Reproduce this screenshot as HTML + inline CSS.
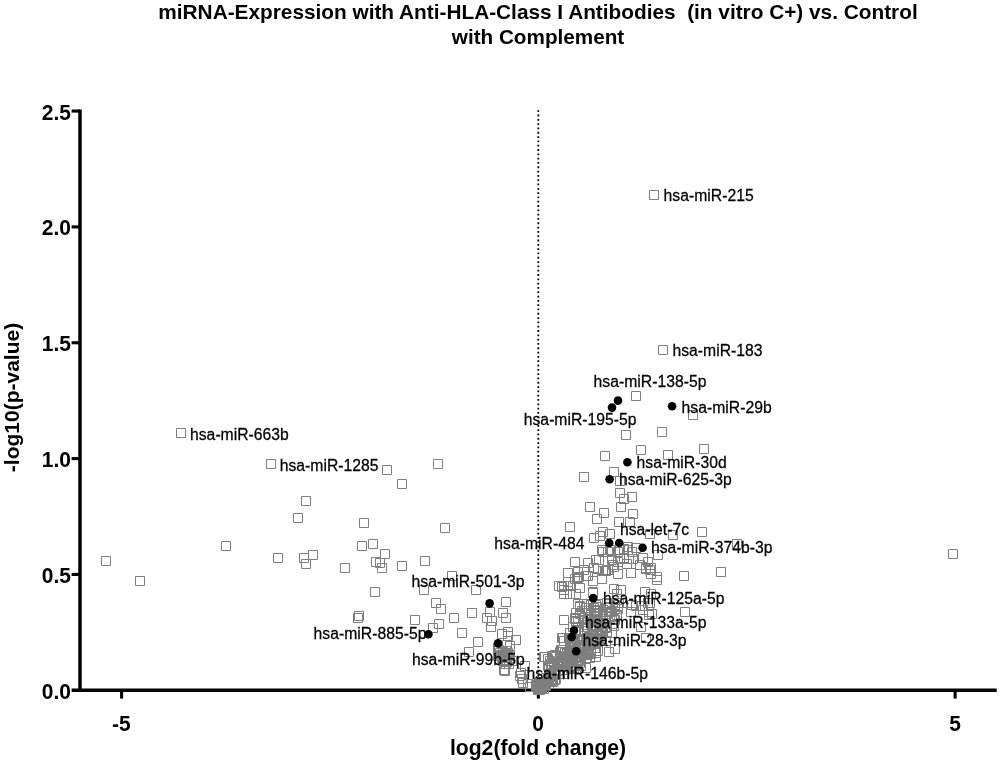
<!DOCTYPE html>
<html><head><meta charset="utf-8"><title>Volcano plot</title>
<style>html,body{margin:0;padding:0;background:#fff;}svg{display:block;will-change:transform;}text{font-family:"Liberation Sans", sans-serif;fill:#000;}.t{font-weight:bold;}.s{fill:none;stroke:#7f7f7f;stroke-width:1.0;}</style></head><body>
<svg width="1000" height="763" viewBox="0 0 1000 763">
<rect width="1000" height="763" fill="#fff"/>
<text class="t" transform="translate(538 18.6) scale(1 1)" font-size="20.8" text-anchor="middle" xml:space="preserve" style="white-space:pre">miRNA-Expression with Anti-HLA-Class I Antibodies  (in vitro C+) vs. Control</text>
<text class="t" transform="translate(538 43.7) scale(1 1)" font-size="20.7" text-anchor="middle">with Complement</text>
<g stroke="#000" stroke-width="3.5" fill="none" stroke-linecap="butt">
<path d="M80 109.5V692"/>
<path d="M71.6 690.25H996.7"/>
</g>
<g stroke="#000" stroke-width="3.1" fill="none">
<path d="M71.6 111.05H80"/>
<path d="M71.6 226.9H80"/>
<path d="M71.6 342.75H80"/>
<path d="M71.6 458.6H80"/>
<path d="M71.6 574.45H80"/>
<path d="M121.6 690V698.6"/>
<path d="M538.35 690V698.6"/>
<path d="M955.1 690V698.6"/>
</g>
<path d="M538.3 110.3V688" stroke="#000" stroke-width="1.8" stroke-dasharray="1.8 2.51" fill="none"/>
<text class="t" transform="translate(70.9 119.5) scale(1 1.045)" font-size="21" text-anchor="end">2.5</text>
<text class="t" transform="translate(70.9 235.3) scale(1 1.045)" font-size="21" text-anchor="end">2.0</text>
<text class="t" transform="translate(70.9 351.1) scale(1 1.045)" font-size="21" text-anchor="end">1.5</text>
<text class="t" transform="translate(70.9 467.0) scale(1 1.045)" font-size="21" text-anchor="end">1.0</text>
<text class="t" transform="translate(70.9 582.9) scale(1 1.045)" font-size="21" text-anchor="end">0.5</text>
<text class="t" transform="translate(70.9 698.7) scale(1 1.045)" font-size="21" text-anchor="end">0.0</text>
<text class="t" transform="translate(121.3 730.6) scale(1 1.045)" font-size="21" text-anchor="middle">-5</text>
<text class="t" transform="translate(538 730.6) scale(1 1.045)" font-size="21" text-anchor="middle">0</text>
<text class="t" transform="translate(955.0 730.6) scale(1 1.045)" font-size="21" text-anchor="middle">5</text>
<text class="t" transform="translate(538 755) scale(1 1)" font-size="21.15" text-anchor="middle">log2(fold change)</text>
<text class="t" transform="translate(19.3 397.5) rotate(-90) scale(1 1)" font-size="21" text-anchor="middle">-log10(p-value)</text>
<path class="s" d="M573.5 643.5h9v9h-9zM561.5 653.5h9v9h-9zM567.5 661.5h9v9h-9zM580.5 640.5h9v9h-9zM543.5 677.5h9v9h-9zM537.5 683.5h9v9h-9zM566.5 655.5h9v9h-9zM591.5 609.5h9v9h-9zM570.5 641.5h9v9h-9zM567.5 664.5h9v9h-9zM561.5 654.5h9v9h-9zM571.5 645.5h9v9h-9zM585.5 614.5h9v9h-9zM580.5 650.5h9v9h-9zM589.5 624.5h9v9h-9zM544.5 679.5h9v9h-9zM598.5 609.5h9v9h-9zM544.5 673.5h9v9h-9zM571.5 660.5h9v9h-9zM594.5 619.5h9v9h-9zM586.5 610.5h9v9h-9zM549.5 658.5h9v9h-9zM564.5 633.5h9v9h-9zM549.5 670.5h9v9h-9zM586.5 635.5h9v9h-9zM545.5 669.5h9v9h-9zM563.5 658.5h9v9h-9zM546.5 674.5h9v9h-9zM555.5 647.5h9v9h-9zM573.5 658.5h9v9h-9zM541.5 680.5h9v9h-9zM545.5 656.5h9v9h-9zM540.5 680.5h9v9h-9zM570.5 647.5h9v9h-9zM554.5 659.5h9v9h-9zM558.5 656.5h9v9h-9zM566.5 664.5h9v9h-9zM549.5 666.5h9v9h-9zM610.5 600.5h9v9h-9zM573.5 627.5h9v9h-9zM574.5 655.5h9v9h-9zM587.5 638.5h9v9h-9zM573.5 643.5h9v9h-9zM578.5 643.5h9v9h-9zM585.5 653.5h9v9h-9zM578.5 643.5h9v9h-9zM562.5 653.5h9v9h-9zM586.5 635.5h9v9h-9zM563.5 659.5h9v9h-9zM572.5 648.5h9v9h-9zM613.5 604.5h9v9h-9zM579.5 642.5h9v9h-9zM559.5 636.5h9v9h-9zM582.5 624.5h9v9h-9zM573.5 653.5h9v9h-9zM551.5 674.5h9v9h-9zM583.5 646.5h9v9h-9zM565.5 628.5h9v9h-9zM589.5 625.5h9v9h-9zM592.5 637.5h9v9h-9zM568.5 649.5h9v9h-9zM610.5 615.5h9v9h-9zM593.5 635.5h9v9h-9zM569.5 647.5h9v9h-9zM558.5 645.5h9v9h-9zM571.5 616.5h9v9h-9zM602.5 628.5h9v9h-9zM596.5 627.5h9v9h-9zM600.5 616.5h9v9h-9zM550.5 675.5h9v9h-9zM570.5 613.5h9v9h-9zM610.5 604.5h9v9h-9zM590.5 643.5h9v9h-9zM537.5 677.5h9v9h-9zM579.5 622.5h9v9h-9zM591.5 636.5h9v9h-9zM568.5 622.5h9v9h-9zM537.5 679.5h9v9h-9zM592.5 606.5h9v9h-9zM560.5 665.5h9v9h-9zM576.5 656.5h9v9h-9zM575.5 658.5h9v9h-9zM531.5 681.5h9v9h-9zM566.5 662.5h9v9h-9zM575.5 636.5h9v9h-9zM544.5 675.5h9v9h-9zM558.5 659.5h9v9h-9zM547.5 661.5h9v9h-9zM548.5 675.5h9v9h-9zM577.5 649.5h9v9h-9zM571.5 617.5h9v9h-9zM583.5 614.5h9v9h-9zM546.5 661.5h9v9h-9zM556.5 662.5h9v9h-9zM534.5 683.5h9v9h-9zM571.5 608.5h9v9h-9zM537.5 683.5h9v9h-9zM557.5 657.5h9v9h-9zM584.5 647.5h9v9h-9zM592.5 631.5h9v9h-9zM545.5 671.5h9v9h-9zM576.5 634.5h9v9h-9zM533.5 683.5h9v9h-9zM594.5 629.5h9v9h-9zM553.5 657.5h9v9h-9zM566.5 651.5h9v9h-9zM579.5 599.5h9v9h-9zM563.5 652.5h9v9h-9zM576.5 661.5h9v9h-9zM596.5 634.5h9v9h-9zM586.5 648.5h9v9h-9zM580.5 641.5h9v9h-9zM538.5 681.5h9v9h-9zM534.5 681.5h9v9h-9zM549.5 670.5h9v9h-9zM593.5 614.5h9v9h-9zM532.5 682.5h9v9h-9zM534.5 678.5h9v9h-9zM536.5 679.5h9v9h-9zM537.5 682.5h9v9h-9zM569.5 641.5h9v9h-9zM573.5 643.5h9v9h-9zM570.5 645.5h9v9h-9zM602.5 609.5h9v9h-9zM573.5 644.5h9v9h-9zM582.5 636.5h9v9h-9zM595.5 618.5h9v9h-9zM605.5 602.5h9v9h-9zM570.5 614.5h9v9h-9zM559.5 661.5h9v9h-9zM569.5 634.5h9v9h-9zM609.5 621.5h9v9h-9zM570.5 653.5h9v9h-9z"/>
<path class="s" d="M547.5 672.5h9v9h-9zM591.5 643.5h9v9h-9zM601.5 623.5h9v9h-9zM568.5 647.5h9v9h-9zM571.5 657.5h9v9h-9zM539.5 684.5h9v9h-9zM535.5 684.5h9v9h-9zM575.5 653.5h9v9h-9zM559.5 660.5h9v9h-9zM565.5 661.5h9v9h-9zM563.5 655.5h9v9h-9zM578.5 636.5h9v9h-9zM563.5 662.5h9v9h-9zM583.5 622.5h9v9h-9zM547.5 651.5h9v9h-9zM589.5 603.5h9v9h-9zM535.5 677.5h9v9h-9zM587.5 621.5h9v9h-9zM543.5 661.5h9v9h-9zM544.5 677.5h9v9h-9zM531.5 680.5h9v9h-9zM589.5 624.5h9v9h-9zM567.5 653.5h9v9h-9zM535.5 677.5h9v9h-9zM545.5 669.5h9v9h-9zM586.5 635.5h9v9h-9zM544.5 662.5h9v9h-9zM591.5 600.5h9v9h-9zM562.5 648.5h9v9h-9zM590.5 606.5h9v9h-9zM543.5 654.5h9v9h-9zM549.5 669.5h9v9h-9zM575.5 601.5h9v9h-9zM570.5 648.5h9v9h-9zM572.5 636.5h9v9h-9zM562.5 649.5h9v9h-9zM575.5 609.5h9v9h-9zM556.5 659.5h9v9h-9zM593.5 605.5h9v9h-9zM597.5 633.5h9v9h-9zM584.5 634.5h9v9h-9zM575.5 649.5h9v9h-9zM571.5 664.5h9v9h-9zM562.5 661.5h9v9h-9zM588.5 617.5h9v9h-9zM591.5 624.5h9v9h-9zM601.5 636.5h9v9h-9zM552.5 660.5h9v9h-9zM568.5 652.5h9v9h-9zM548.5 677.5h9v9h-9zM592.5 602.5h9v9h-9zM596.5 624.5h9v9h-9zM559.5 655.5h9v9h-9zM581.5 620.5h9v9h-9zM587.5 637.5h9v9h-9zM539.5 677.5h9v9h-9zM591.5 648.5h9v9h-9zM556.5 645.5h9v9h-9zM607.5 628.5h9v9h-9zM541.5 681.5h9v9h-9zM586.5 600.5h9v9h-9zM591.5 615.5h9v9h-9zM565.5 637.5h9v9h-9zM581.5 603.5h9v9h-9zM547.5 672.5h9v9h-9zM586.5 608.5h9v9h-9zM557.5 655.5h9v9h-9zM580.5 643.5h9v9h-9zM593.5 646.5h9v9h-9zM575.5 635.5h9v9h-9zM579.5 640.5h9v9h-9zM578.5 640.5h9v9h-9zM541.5 680.5h9v9h-9zM578.5 613.5h9v9h-9zM572.5 652.5h9v9h-9zM574.5 649.5h9v9h-9zM551.5 667.5h9v9h-9zM591.5 606.5h9v9h-9zM568.5 657.5h9v9h-9zM587.5 629.5h9v9h-9zM546.5 671.5h9v9h-9zM590.5 615.5h9v9h-9zM536.5 682.5h9v9h-9zM595.5 630.5h9v9h-9zM574.5 643.5h9v9h-9zM558.5 669.5h9v9h-9zM580.5 626.5h9v9h-9zM569.5 663.5h9v9h-9zM538.5 681.5h9v9h-9zM598.5 609.5h9v9h-9zM551.5 670.5h9v9h-9zM566.5 639.5h9v9h-9zM570.5 646.5h9v9h-9zM577.5 635.5h9v9h-9zM602.5 622.5h9v9h-9zM591.5 616.5h9v9h-9zM597.5 624.5h9v9h-9zM566.5 636.5h9v9h-9zM570.5 648.5h9v9h-9zM584.5 632.5h9v9h-9zM565.5 656.5h9v9h-9zM598.5 605.5h9v9h-9zM557.5 645.5h9v9h-9zM595.5 609.5h9v9h-9zM541.5 673.5h9v9h-9zM534.5 683.5h9v9h-9zM563.5 656.5h9v9h-9zM590.5 633.5h9v9h-9zM537.5 684.5h9v9h-9zM589.5 638.5h9v9h-9zM589.5 631.5h9v9h-9zM592.5 635.5h9v9h-9zM535.5 682.5h9v9h-9zM586.5 599.5h9v9h-9zM558.5 652.5h9v9h-9zM579.5 635.5h9v9h-9zM603.5 603.5h9v9h-9zM577.5 606.5h9v9h-9zM609.5 614.5h9v9h-9zM546.5 659.5h9v9h-9zM581.5 653.5h9v9h-9zM573.5 599.5h9v9h-9zM604.5 599.5h9v9h-9zM586.5 638.5h9v9h-9zM579.5 631.5h9v9h-9zM583.5 649.5h9v9h-9zM545.5 671.5h9v9h-9zM586.5 649.5h9v9h-9zM590.5 621.5h9v9h-9zM593.5 599.5h9v9h-9zM597.5 633.5h9v9h-9zM560.5 648.5h9v9h-9zM598.5 605.5h9v9h-9zM597.5 625.5h9v9h-9z"/>
<path class="s" d="M551.5 652.5h9v9h-9zM566.5 653.5h9v9h-9zM543.5 673.5h9v9h-9zM591.5 638.5h9v9h-9zM535.5 685.5h9v9h-9zM581.5 635.5h9v9h-9zM562.5 660.5h9v9h-9zM592.5 615.5h9v9h-9zM555.5 669.5h9v9h-9zM582.5 629.5h9v9h-9zM586.5 609.5h9v9h-9zM564.5 654.5h9v9h-9zM564.5 647.5h9v9h-9zM535.5 680.5h9v9h-9zM533.5 685.5h9v9h-9zM577.5 647.5h9v9h-9zM575.5 602.5h9v9h-9zM547.5 676.5h9v9h-9zM550.5 650.5h9v9h-9zM586.5 645.5h9v9h-9zM589.5 612.5h9v9h-9zM589.5 615.5h9v9h-9zM613.5 602.5h9v9h-9zM553.5 666.5h9v9h-9zM582.5 645.5h9v9h-9zM550.5 665.5h9v9h-9zM561.5 651.5h9v9h-9zM589.5 605.5h9v9h-9zM598.5 618.5h9v9h-9zM567.5 640.5h9v9h-9zM585.5 640.5h9v9h-9zM544.5 670.5h9v9h-9zM537.5 683.5h9v9h-9zM536.5 679.5h9v9h-9zM537.5 680.5h9v9h-9zM537.5 683.5h9v9h-9zM539.5 679.5h9v9h-9zM536.5 683.5h9v9h-9zM535.5 684.5h9v9h-9zM538.5 680.5h9v9h-9zM533.5 684.5h9v9h-9zM537.5 681.5h9v9h-9zM537.5 681.5h9v9h-9zM537.5 682.5h9v9h-9zM536.5 682.5h9v9h-9zM536.5 680.5h9v9h-9zM538.5 679.5h9v9h-9zM643.5 557.5h9v9h-9zM619.5 544.5h9v9h-9zM645.5 565.5h9v9h-9zM598.5 547.5h9v9h-9zM646.5 569.5h9v9h-9zM594.5 555.5h9v9h-9zM613.5 569.5h9v9h-9zM626.5 568.5h9v9h-9zM600.5 566.5h9v9h-9zM603.5 565.5h9v9h-9zM638.5 553.5h9v9h-9zM601.5 566.5h9v9h-9zM613.5 547.5h9v9h-9zM613.5 557.5h9v9h-9zM605.5 545.5h9v9h-9zM641.5 563.5h9v9h-9zM623.5 542.5h9v9h-9zM593.5 564.5h9v9h-9zM598.5 566.5h9v9h-9zM622.5 559.5h9v9h-9zM608.5 560.5h9v9h-9zM624.5 554.5h9v9h-9zM628.5 554.5h9v9h-9zM615.5 554.5h9v9h-9zM581.5 571.5h9v9h-9zM565.5 581.5h9v9h-9zM588.5 588.5h9v9h-9zM563.5 581.5h9v9h-9zM559.5 581.5h9v9h-9zM573.5 573.5h9v9h-9zM574.5 572.5h9v9h-9zM557.5 582.5h9v9h-9zM559.5 585.5h9v9h-9zM588.5 587.5h9v9h-9zM602.5 598.5h9v9h-9zM617.5 598.5h9v9h-9zM605.5 611.5h9v9h-9zM647.5 609.5h9v9h-9zM638.5 605.5h9v9h-9zM646.5 589.5h9v9h-9zM645.5 598.5h9v9h-9zM607.5 611.5h9v9h-9zM644.5 607.5h9v9h-9zM616.5 585.5h9v9h-9zM607.5 606.5h9v9h-9zM612.5 610.5h9v9h-9zM606.5 607.5h9v9h-9zM643.5 598.5h9v9h-9zM612.5 589.5h9v9h-9zM614.5 598.5h9v9h-9zM176.5 428.5h9v9h-9zM266.5 459.5h9v9h-9zM301.5 496.5h9v9h-9zM293.5 513.5h9v9h-9zM221.5 541.5h9v9h-9zM101.5 556.5h9v9h-9zM135.5 576.5h9v9h-9zM273.5 553.5h9v9h-9zM299.5 553.5h9v9h-9zM308.5 550.5h9v9h-9zM301.5 559.5h9v9h-9zM382.5 465.5h9v9h-9zM433.5 459.5h9v9h-9zM397.5 479.5h9v9h-9zM359.5 518.5h9v9h-9zM440.5 523.5h9v9h-9zM357.5 541.5h9v9h-9zM368.5 539.5h9v9h-9zM380.5 549.5h9v9h-9zM340.5 563.5h9v9h-9zM371.5 557.5h9v9h-9zM375.5 558.5h9v9h-9zM377.5 563.5h9v9h-9zM397.5 561.5h9v9h-9zM420.5 556.5h9v9h-9zM447.5 571.5h9v9h-9zM370.5 587.5h9v9h-9zM419.5 585.5h9v9h-9zM471.5 585.5h9v9h-9zM431.5 598.5h9v9h-9zM436.5 604.5h9v9h-9zM354.5 611.5h9v9h-9zM353.5 613.5h9v9h-9zM410.5 615.5h9v9h-9zM434.5 619.5h9v9h-9zM428.5 623.5h9v9h-9zM449.5 613.5h9v9h-9z"/>
<path class="s" d="M467.5 608.5h9v9h-9zM457.5 628.5h9v9h-9zM473.5 637.5h9v9h-9zM464.5 647.5h9v9h-9zM485.5 607.5h9v9h-9zM482.5 613.5h9v9h-9zM487.5 616.5h9v9h-9zM486.5 622.5h9v9h-9zM501.5 597.5h9v9h-9zM498.5 608.5h9v9h-9zM501.5 613.5h9v9h-9zM503.5 627.5h9v9h-9zM497.5 629.5h9v9h-9zM503.5 631.5h9v9h-9zM511.5 635.5h9v9h-9zM502.5 640.5h9v9h-9zM505.5 641.5h9v9h-9zM493.5 643.5h9v9h-9zM498.5 647.5h9v9h-9zM500.5 649.5h9v9h-9zM502.5 650.5h9v9h-9zM499.5 652.5h9v9h-9zM503.5 648.5h9v9h-9zM496.5 650.5h9v9h-9zM501.5 646.5h9v9h-9zM494.5 645.5h9v9h-9zM495.5 648.5h9v9h-9zM497.5 653.5h9v9h-9zM500.5 655.5h9v9h-9zM502.5 657.5h9v9h-9zM504.5 653.5h9v9h-9zM498.5 656.5h9v9h-9zM501.5 659.5h9v9h-9zM505.5 651.5h9v9h-9zM493.5 651.5h9v9h-9zM504.5 659.5h9v9h-9zM507.5 656.5h9v9h-9zM500.5 666.5h9v9h-9zM499.5 665.5h9v9h-9zM515.5 671.5h9v9h-9zM518.5 678.5h9v9h-9zM523.5 679.5h9v9h-9zM525.5 682.5h9v9h-9zM516.5 668.5h9v9h-9zM517.5 674.5h9v9h-9zM520.5 661.5h9v9h-9zM539.5 652.5h9v9h-9zM559.5 615.5h9v9h-9zM558.5 633.5h9v9h-9zM649.5 190.5h9v9h-9zM658.5 345.5h9v9h-9zM631.5 391.5h9v9h-9zM688.5 410.5h9v9h-9zM621.5 430.5h9v9h-9zM657.5 427.5h9v9h-9zM636.5 445.5h9v9h-9zM663.5 450.5h9v9h-9zM699.5 444.5h9v9h-9zM600.5 451.5h9v9h-9zM579.5 472.5h9v9h-9zM609.5 467.5h9v9h-9zM615.5 476.5h9v9h-9zM615.5 488.5h9v9h-9zM619.5 494.5h9v9h-9zM627.5 492.5h9v9h-9zM616.5 502.5h9v9h-9zM585.5 502.5h9v9h-9zM599.5 508.5h9v9h-9zM628.5 509.5h9v9h-9zM592.5 514.5h9v9h-9zM614.5 517.5h9v9h-9zM625.5 517.5h9v9h-9zM565.5 522.5h9v9h-9zM598.5 527.5h9v9h-9zM605.5 529.5h9v9h-9zM595.5 531.5h9v9h-9zM589.5 533.5h9v9h-9zM697.5 527.5h9v9h-9zM668.5 530.5h9v9h-9zM645.5 529.5h9v9h-9zM732.5 539.5h9v9h-9zM570.5 557.5h9v9h-9zM583.5 558.5h9v9h-9zM591.5 555.5h9v9h-9zM597.5 545.5h9v9h-9zM603.5 547.5h9v9h-9zM607.5 555.5h9v9h-9zM609.5 562.5h9v9h-9zM615.5 545.5h9v9h-9zM619.5 553.5h9v9h-9zM623.5 545.5h9v9h-9zM627.5 547.5h9v9h-9zM631.5 543.5h9v9h-9zM635.5 560.5h9v9h-9zM641.5 564.5h9v9h-9zM646.5 563.5h9v9h-9zM653.5 550.5h9v9h-9zM652.5 572.5h9v9h-9zM652.5 575.5h9v9h-9zM679.5 571.5h9v9h-9zM716.5 567.5h9v9h-9zM563.5 568.5h9v9h-9zM573.5 567.5h9v9h-9zM579.5 565.5h9v9h-9zM589.5 563.5h9v9h-9zM554.5 581.5h9v9h-9zM563.5 577.5h9v9h-9zM570.5 574.5h9v9h-9zM575.5 583.5h9v9h-9zM583.5 571.5h9v9h-9zM588.5 576.5h9v9h-9zM597.5 574.5h9v9h-9zM559.5 589.5h9v9h-9zM565.5 589.5h9v9h-9zM571.5 589.5h9v9h-9zM609.5 584.5h9v9h-9zM640.5 587.5h9v9h-9zM627.5 600.5h9v9h-9zM637.5 601.5h9v9h-9zM644.5 610.5h9v9h-9zM680.5 607.5h9v9h-9zM580.5 606.5h9v9h-9zM948.5 549.5h9v9h-9zM636.5 622.5h9v9h-9zM641.5 633.5h9v9h-9zM610.5 644.5h9v9h-9zM604.5 647.5h9v9h-9zM591.5 652.5h9v9h-9zM540.5 652.5h9v9h-9zM631.5 601.5h9v9h-9zM626.5 607.5h9v9h-9zM573.5 616.5h9v9h-9zM557.5 633.5h9v9h-9zM581.5 663.5h9v9h-9z"/>
<g fill="#000">
<circle cx="618" cy="400.6" r="4.3"/>
<circle cx="612" cy="407.6" r="4.3"/>
<circle cx="672.1" cy="406.3" r="4.3"/>
<circle cx="627.4" cy="462.2" r="4.3"/>
<circle cx="609.6" cy="479.2" r="4.3"/>
<circle cx="609.2" cy="543" r="4.3"/>
<circle cx="619.2" cy="543" r="4.3"/>
<circle cx="642.6" cy="547.8" r="4.3"/>
<circle cx="593.2" cy="598.1" r="4.3"/>
<circle cx="574" cy="630.5" r="4.3"/>
<circle cx="571.7" cy="637" r="4.3"/>
<circle cx="576.2" cy="651.3" r="4.3"/>
<circle cx="489.6" cy="603.4" r="4.3"/>
<circle cx="428.4" cy="634.2" r="4.3"/>
<circle cx="498" cy="643.4" r="4.3"/>
</g>
<g font-size="15.75" stroke="#000" stroke-width="0.25">
<text transform="translate(663.6 200.9) scale(1 1.015)" text-anchor="start">hsa-miR-215</text>
<text transform="translate(672.4 355.9) scale(1 1.015)" text-anchor="start">hsa-miR-183</text>
<text transform="translate(593.6 386.9) scale(1 1.015)" text-anchor="start">hsa-miR-138-5p</text>
<text transform="translate(681.6 412.5) scale(1 1.015)" text-anchor="start">hsa-miR-29b</text>
<text transform="translate(636.6 425.3) scale(1 1.015)" text-anchor="end">hsa-miR-195-5p</text>
<text transform="translate(190 439.6) scale(1 1.015)" text-anchor="start">hsa-miR-663b</text>
<text transform="translate(636.6 467.5) scale(1 1.015)" text-anchor="start">hsa-miR-30d</text>
<text transform="translate(378.6 470.5) scale(1 1.015)" text-anchor="end">hsa-miR-1285</text>
<text transform="translate(619 485.3) scale(1 1.015)" text-anchor="start">hsa-miR-625-3p</text>
<text transform="translate(620 535.3) scale(1 1.015)" text-anchor="start">hsa-let-7c</text>
<text transform="translate(584.4 548.9) scale(1 1.015)" text-anchor="end">hsa-miR-484</text>
<text transform="translate(651 553.3) scale(1 1.015)" text-anchor="start">hsa-miR-374b-3p</text>
<text transform="translate(411.6 586.5) scale(1 1.015)" text-anchor="start">hsa-miR-501-3p</text>
<text transform="translate(603 603.9) scale(1 1.015)" text-anchor="start">hsa-miR-125a-5p</text>
<text transform="translate(585 628.3) scale(1 1.015)" text-anchor="start">hsa-miR-133a-5p</text>
<text transform="translate(426.4 638.9) scale(1 1.015)" text-anchor="end">hsa-miR-885-5p</text>
<text transform="translate(582.4 646.1) scale(1 1.015)" text-anchor="start">hsa-miR-28-3p</text>
<text transform="translate(412 664.9) scale(1 1.015)" text-anchor="start">hsa-miR-99b-5p</text>
<text transform="translate(648 678.6) scale(1 1.015)" text-anchor="end">hsa-miR-146b-5p</text>
</g>
</svg></body></html>
